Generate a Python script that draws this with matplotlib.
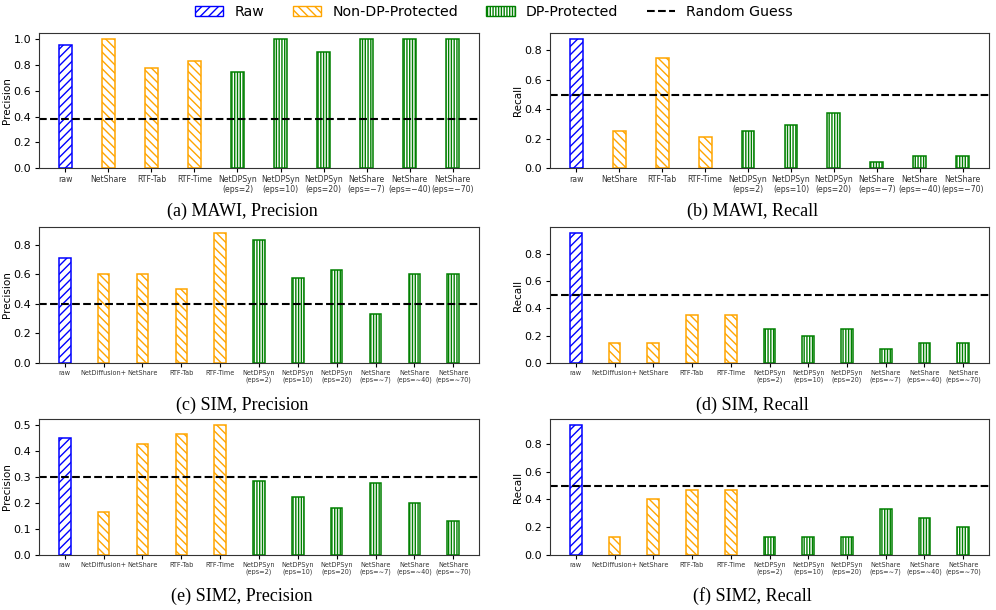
import matplotlib
matplotlib.use("Agg")
import matplotlib.pyplot as plt
from matplotlib.patches import Patch
from matplotlib.lines import Line2D
import numpy as np

# ---- data ----
cats_mawi = ['raw', 'NetShare', 'RTF-Tab', 'RTF-Time',
             'NetDPSyn\n(eps=2)', 'NetDPSyn\n(eps=10)', 'NetDPSyn\n(eps=20)',
             'NetShare\n(eps=\u22127)', 'NetShare\n(eps=\u221240)', 'NetShare\n(eps=\u221270)']
groups_mawi = ['raw', 'non', 'non', 'non', 'dp', 'dp', 'dp', 'dp', 'dp', 'dp']

cats_sim = ['raw', 'NetDiffusion+', 'NetShare', 'RTF-Tab', 'RTF-Time',
            'NetDPSyn\n(eps=2)', 'NetDPSyn\n(eps=10)', 'NetDPSyn\n(eps=20)',
            'NetShare\n(eps=\u223c7)', 'NetShare\n(eps=\u223c40)', 'NetShare\n(eps=\u223c70)']
groups_sim = ['raw', 'non', 'non', 'non', 'non', 'dp', 'dp', 'dp', 'dp', 'dp', 'dp']

mawi_precision = [0.955, 1.0, 0.78, 0.83, 0.75, 1.0, 0.9, 1.0, 1.0, 1.0]
mawi_recall = [0.875, 0.25, 0.75, 0.21, 0.25, 0.29, 0.375, 0.042, 0.083, 0.083]
sim_precision = [0.706, 0.6, 0.6, 0.5, 0.875, 0.833, 0.571, 0.625, 0.333, 0.6, 0.6]
sim_recall = [0.95, 0.15, 0.15, 0.35, 0.35, 0.25, 0.2, 0.25, 0.1, 0.15, 0.15]
sim2_precision = [0.452, 0.167, 0.429, 0.467, 0.5, 0.286, 0.222, 0.182, 0.278, 0.2, 0.13]
sim2_recall = [0.933, 0.133, 0.4, 0.467, 0.467, 0.133, 0.133, 0.133, 0.333, 0.267, 0.2]

random_guess = {'mawi_p': 0.385, 'mawi_r': 0.5, 'sim_p': 0.4, 'sim_r': 0.5,
                'sim2_p': 0.3, 'sim2_r': 0.5}

captions = ['(a) MAWI, Precision', '(b) MAWI, Recall',
            '(c) SIM, Precision', '(d) SIM, Recall',
            '(e) SIM2, Precision', '(f) SIM2, Recall']

# ---- styles ----
style = {'raw': dict(edgecolor='blue', hatch='////'),
         'non': dict(edgecolor='orange', hatch='\\\\\\\\'),
         'dp': dict(edgecolor='green', hatch='||||||')}

W, H = 996, 610
fig = plt.figure(figsize=(W / 100, H / 100), dpi=100)

cols = [(39, 479), (550, 989)]
rows = [(33, 168), (227, 363), (419, 555)]
cap_y = [211, 405, 596]

panels = [
    (cats_mawi, groups_mawi, mawi_precision, 'Precision', random_guess['mawi_p'], 5.6),
    (cats_mawi, groups_mawi, mawi_recall, 'Recall', random_guess['mawi_r'], 5.6),
    (cats_sim, groups_sim, sim_precision, 'Precision', random_guess['sim_p'], 4.7),
    (cats_sim, groups_sim, sim_recall, 'Recall', random_guess['sim_r'], 4.7),
    (cats_sim, groups_sim, sim2_precision, 'Precision', random_guess['sim2_p'], 4.7),
    (cats_sim, groups_sim, sim2_recall, 'Recall', random_guess['sim2_r'], 4.7),
]

for i, (cats, groups, vals, ylab, rg, xfs) in enumerate(panels):
    r, c = divmod(i, 2)
    x0, x1 = cols[c]
    y0, y1 = rows[r]
    ax = fig.add_axes([x0 / W, 1 - y1 / H, (x1 - x0) / W, (y1 - y0) / H])
    x = np.arange(len(cats))
    for xi, g, v in zip(x, groups, vals):
        ax.bar(xi, v, width=0.3, facecolor='none', linewidth=1.1, **style[g])
    ax.axhline(rg, color='black', linestyle='--', linewidth=1.5)
    ax.set_xticks(x)
    ax.set_xticklabels(cats, fontsize=xfs, color='#333333')
    ax.tick_params(axis='y', labelsize=8, pad=2.5, length=3)
    ax.tick_params(axis='x', length=3, pad=2)
    ax.set_ylabel(ylab, fontsize=7.5, labelpad=1)
    for sp in ax.spines.values():
        sp.set_color('#333333')
    fig.text((x0 + x1) / 2 / W - 17 / W, 1 - cap_y[r] / H, captions[i],
             ha='center', va='center', fontsize=13, family='Liberation Serif')

handles = [Patch(facecolor='none', edgecolor='blue', hatch='////', label='Raw'),
           Patch(facecolor='none', edgecolor='orange', hatch='\\\\\\\\', label='Non-DP-Protected'),
           Patch(facecolor='none', edgecolor='green', hatch='||||||', label='DP-Protected'),
           Line2D([], [], color='black', linestyle='--', linewidth=1.5, label='Random Guess')]
fig.legend(handles=handles, loc='center', bbox_to_anchor=(494 / W, 1 - 12 / H), ncol=4,
           frameon=False, fontsize=10.2)

fig.savefig('out.png', dpi=100)
